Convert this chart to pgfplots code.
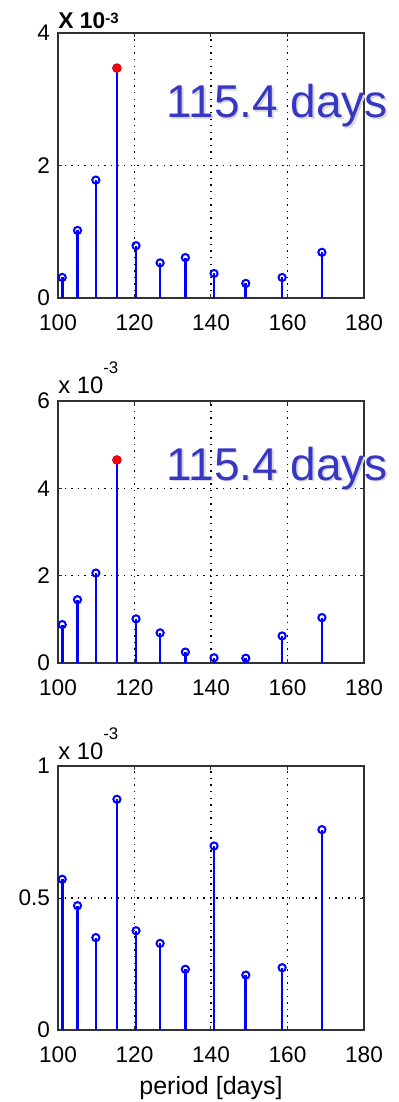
\documentclass[border=0pt]{standalone}
\usepackage{pgfplots}
\pgfplotsset{compat=1.18}
\usepackage{fontspec}
\setmainfont{Liberation Sans}
\definecolor{annblue}{RGB}{55,55,195}
\definecolor{axgray}{RGB}{50,50,50}

\pgfplotsset{
  stemstyle/.style={
    scale only axis, width=153pt,
    xmin=100, xmax=180, xtick={100,120,140,160,180},
    ymin=0,
    tick align=inside, major tick length=2pt,
    grid=major,
    major grid style={black, line width=0.6pt, dash pattern=on 0.7pt off 2.6pt},
    axis line style={axgray, line width=0.6pt},
    every tick/.style={axgray, line width=0.5pt},
    /pgf/number format/assume math mode=true,
    ticklabel style={font=\fontsize{11.3}{12}\selectfont},
    xticklabel style={yshift=-5pt},
    yticklabel style={xshift=-0.5pt},
    scaled y ticks=false,
    clip=false,
  },
  stemplot/.style={blue, line width=1.35pt, ycomb, mark=o,
    mark options={solid, line width=1pt, blue}, mark size=1.8pt},
  peak/.style={red, only marks, mark=*, mark size=2.1pt, mark options={fill=red, draw=red}},
}

\begin{document}
\begin{tikzpicture}
\path[use as bounding box] (0,0) rectangle (199pt,-551pt);

% ---------- panel 1 ----------
\begin{axis}[stemstyle, at={(29pt,-149pt)}, anchor=south west, height=132.5pt,
  ymax=4, ytick={0,2,4}]
\addplot+[stemplot] coordinates {
 (101.1,0.31) (105.1,1.02) (109.9,1.78) (115.4,3.47) (120.4,0.79) (126.7,0.53)
 (133.3,0.61) (140.8,0.37) (149.1,0.22) (158.6,0.31) (169.0,0.69)};
\addplot[peak] coordinates {(115.4,3.47)};
\node[anchor=base west, inner sep=0pt, font=\bfseries\fontsize{11.4}{12}\selectfont]
  at ([yshift=2.5pt]rel axis cs:0,1) {X 10\raisebox{2.5pt}{\fontsize{7.5}{8}\selectfont -3}};
\end{axis}

% ---------- panel 2 ----------
\begin{axis}[stemstyle, at={(29pt,-331.5pt)}, anchor=south west, height=131pt,
  ymax=6, ytick={0,2,4,6}]
\addplot+[stemplot] coordinates {
 (101.1,0.88) (105.1,1.45) (109.9,2.06) (115.4,4.65) (120.4,1.01) (126.7,0.69)
 (133.3,0.25) (140.8,0.12) (149.1,0.11) (158.6,0.62) (169.0,1.04)};
\addplot[peak] coordinates {(115.4,4.65)};
\node[anchor=base west, inner sep=0pt, font=\fontsize{11.9}{12}\selectfont]
  at ([yshift=4pt]rel axis cs:0,1) {x 10\raisebox{10pt}{\fontsize{8.4}{9}\selectfont -3}};
\end{axis}

% ---------- panel 3 ----------
\begin{axis}[stemstyle, at={(29pt,-515pt)}, anchor=south west, height=132pt,
  ymax=1, ytick={0,0.5,1},
  yticklabels={0,0.5,1},
  xlabel={period [days]},
  xlabel style={at={(rel axis cs:0.5,0)}, anchor=base, yshift=-32pt,
    font=\fontsize{12.5}{14}\selectfont, inner sep=0pt}]
\addplot+[stemplot] coordinates {
 (101.1,0.571) (105.1,0.471) (109.9,0.350) (115.4,0.874) (120.4,0.376) (126.7,0.328)
 (133.3,0.230) (140.8,0.697) (149.1,0.208) (158.6,0.236) (169.0,0.759)};
\node[anchor=base west, inner sep=0pt, font=\fontsize{11.9}{12}\selectfont]
  at ([yshift=3.5pt]rel axis cs:0,1) {x 10\raisebox{10pt}{\fontsize{8.4}{9}\selectfont -3}};
\end{axis}

% ---------- annotations ----------
\node[anchor=base west, inner sep=0pt, text=gray!30, font=\fontsize{23}{26}\selectfont]
  at (83.8pt,-59.8pt) {115.4 days};
\node[anchor=base west, inner sep=0pt, text=annblue, font=\fontsize{23}{26}\selectfont]
  at (83pt,-59pt) {115.4 days};
\node[anchor=base west, inner sep=0pt, text=gray!30, font=\fontsize{23}{26}\selectfont]
  at (83.8pt,-240.8pt) {115.4 days};
\node[anchor=base west, inner sep=0pt, text=annblue, font=\fontsize{23}{26}\selectfont]
  at (83pt,-240pt) {115.4 days};
\end{tikzpicture}
\end{document}
